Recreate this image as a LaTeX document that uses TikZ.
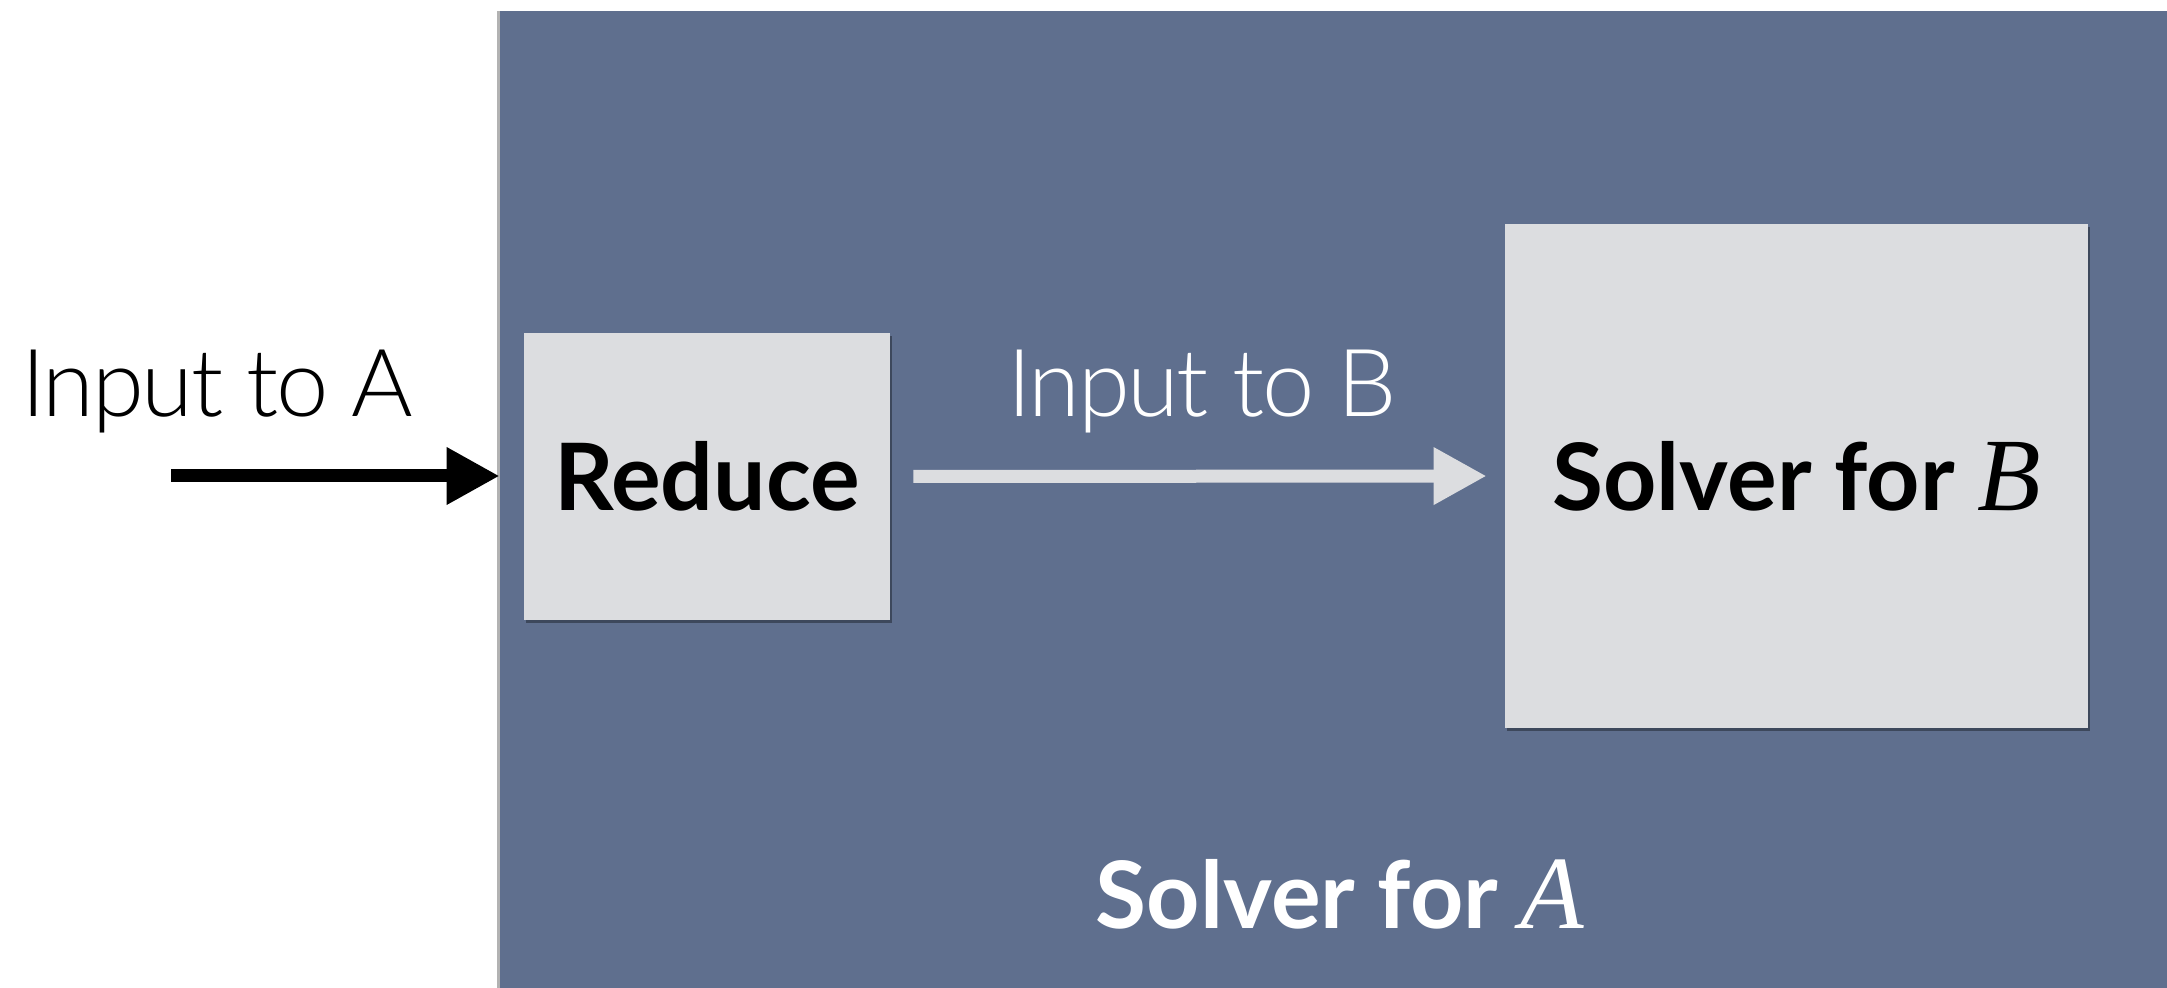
\documentclass[tikz,border=0pt]{standalone}
\usepackage{fontspec}
\setmainfont{Lato}
\newfontfamily\lightfont{Lato Light}[LetterSpace=-2.5]
\newfontface\serifit{Liberation Serif Italic}
\usetikzlibrary{arrows.meta,shadows}
\definecolor{outerblue}{HTML}{5F6F8E}
\definecolor{boxgray}{HTML}{DCDDE0}
\begin{document}
\begin{tikzpicture}[x=0.5pt,y=-0.5pt,
  graybox/.style={fill=boxgray, draw=none, inner sep=0pt,
    drop shadow={shadow xshift=1pt,shadow yshift=-1.5pt,opacity=0.35,fill=black}},
  boldlabel/.style={font=\fontsize{46.5}{54}\selectfont\bfseries},
  thinlabel/.style={font=\lightfont\fontsize{47}{56}\selectfont, inner sep=0pt},
  flow/.style={line width=6.5pt, -{Triangle[length=26.5pt,width=27pt]}}]
\useasboundingbox (0,0) rectangle (2167,988);
\fill[white] (0,0) rectangle (2167,988);
\node[fill=outerblue, draw=none, inner sep=0pt, minimum width=833.5pt, minimum height=488.5pt,
  drop shadow={shadow xshift=-1.5pt,shadow yshift=0pt,opacity=0.3,fill=black}] (outer) at (1333.5,499.5) {};
\node[graybox, boldlabel, minimum width=183pt, minimum height=143.5pt] (reduce) at (707,476.5) {Reduce};
\node[graybox, boldlabel, minimum width=291.5pt, minimum height=252pt] (solverB) at (1796.5,476) {Solver for {\serifit\fontsize{52}{54}\selectfont B}};
\node[thinlabel, anchor=base west] (inA) at (21,417) {Input to A};
\node[thinlabel, white, anchor=base] (inB) at (1202,417) {Input to B};
\node[boldlabel, white, anchor=base, inner sep=0pt] (solA) at (1340,928) {Solver for {\serifit\fontsize{52}{54}\selectfont A}};
\coordinate (start) at (171,476);
\draw[flow, black, shorten >=12pt] (start) -- (start -| reduce.west);
\draw[flow, boxgray, shorten <=11.5pt, shorten >=9pt] (reduce.east) -- (solverB.west);
\end{tikzpicture}
\end{document}
